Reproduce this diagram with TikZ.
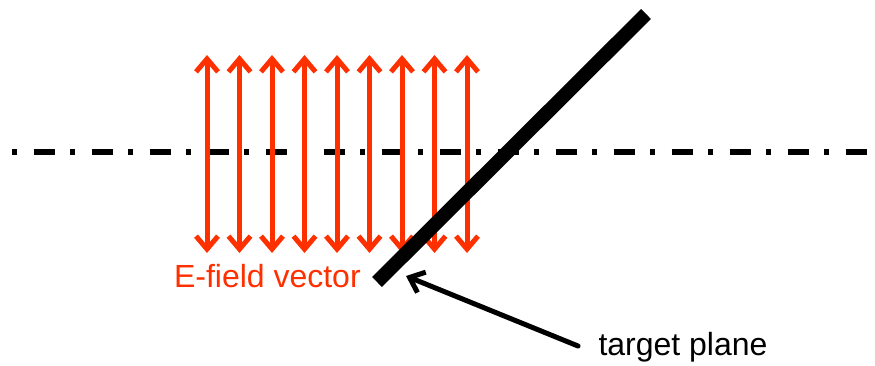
\documentclass[tikz,border=0pt]{standalone}
\usepackage{fontspec}
\setmainfont{Liberation Sans}
\usetikzlibrary{arrows.meta}
\definecolor{efield}{RGB}{255,48,0}

\begin{document}
\begin{tikzpicture}[line width=5pt, line cap=round, line join=round, x=1pt,y=1pt,
  barb/.tip={Straight Barb[length=13pt, width=22pt]},
  labeltext/.style={inner sep=0pt, anchor=base west, font=\fontsize{32}{38}\selectfont}]
  \useasboundingbox (0,0) rectangle (875,365);
  % optical axis
  \draw[line cap=butt, line width=5.5pt, dash pattern=on 5pt off 16.5pt on 21.5pt off 15pt]
    (12,213) -- (875,213);
  % field vectors, pointing both ways
  \foreach \i in {0,...,8}
    \draw[efield, line width=5pt, barb-barb] (207+32.5*\i,112) -- (207+32.5*\i,310);
  % the target plane, tilted
  \draw[line cap=butt, line width=14pt] (377,83) -- (646,351);
  % labels
  \node[labeltext, text=efield] (flabel) at (171.5,78) {E-field vector};
  \node[labeltext] (plabel) at (596,10) {target plane};
  % pointer to the plane
  \coordinate (tail) at (578,19);
  \coordinate (tip) at (406,89);
  \draw[-barb] (tail) -- (tip);
\end{tikzpicture}
\end{document}
